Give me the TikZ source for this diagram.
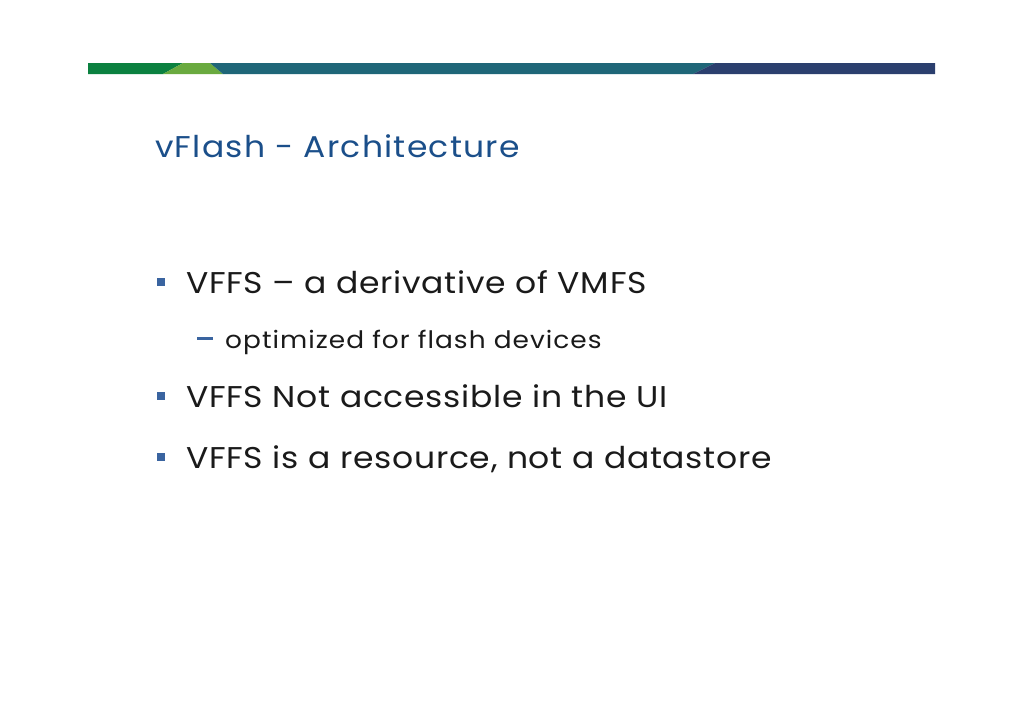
\documentclass[tikz,border=0pt]{standalone}
\usepackage{fontspec}
\setmainfont{Poppins}
\newfontfamily\titlefont{Poppins}[FakeStretch=1.1,LetterSpace=4.2]
\newfontfamily\bodyfont{Poppins}[FakeStretch=1.1,LetterSpace=2.4]
\newfontfamily\subfont{Poppins}[FakeStretch=1.1,LetterSpace=4.3]
\definecolor{bargreen}{HTML}{0B8140}
\definecolor{barlight}{HTML}{6AAA3F}
\definecolor{barteal}{HTML}{1F6678}
\definecolor{barnavy}{HTML}{2B3F6E}
\definecolor{titleblue}{HTML}{1B4F8A}
\definecolor{bulletblue}{HTML}{3A64A0}
\definecolor{bodytext}{HTML}{1A1A1A}
\begin{document}
\begin{tikzpicture}[x=1pt,y=-1pt,
  bodyline/.style={anchor=base west,inner sep=0pt,text=bodytext,font=\bodyfont\fontsize{30}{34}\selectfont},
  subline/.style={anchor=base west,inner sep=0pt,text=bodytext,font=\subfont\fontsize{24}{28}\selectfont},
  bulletsq/.style={fill=bulletblue,draw=none}]
\useasboundingbox (0,0) rectangle (1024,724);
\fill[white] (0,0) rectangle (1024,724);
% top bar
\fill[bargreen] (88,63) -- (183,63) -- (163,74) -- (88,74) -- cycle;
\fill[barlight] (183,63) -- (210,63) -- (223,74) -- (163,74) -- cycle;
\fill[barteal] (210,63) -- (715,63) -- (693,74) -- (223,74) -- cycle;
\fill[barnavy] (715,63) -- (935,63) -- (935,74) -- (693,74) -- cycle;
% title
\node[anchor=base west,inner sep=0pt,text=titleblue,font=\titlefont\fontsize{30}{34}\selectfont] (title) at (155,157) {vFlash - Architecture};
% bullets
\fill[bulletsq] (157,278) rectangle (165,286);
\node[bodyline] (b1) at (186,293) {VFFS – a derivative of VMFS};
\fill[bulletblue] (197,337) rectangle (213,340);
\node[subline] (s1) at (225,348) {optimized for flash devices};
\fill[bulletsq] (157,392) rectangle (165,400);
\node[bodyline] (b2) at (186,407) {VFFS Not accessible in the UI};
\fill[bulletsq] (157,453) rectangle (165,461);
\node[bodyline] (b3) at (186,468) {VFFS is a resource, not a datastore};
\end{tikzpicture}
\end{document}
